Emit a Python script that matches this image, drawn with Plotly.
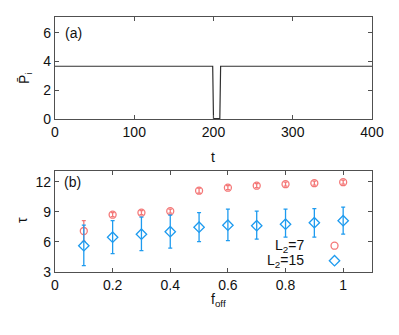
import plotly.graph_objects as go
from plotly.subplots import make_subplots

# panel (a): mean P_i versus t
t_vals = [0, 199, 200, 208, 209, 400]
p_vals = [3.67, 3.67, 0.03, 0.03, 3.67, 3.67]

# panel (b): tau versus f_off
f_off = [0.1, 0.2, 0.3, 0.4, 0.5, 0.6, 0.7, 0.8, 0.9, 1.0]
tau_l7 = [7.07, 8.7, 8.9, 9.05, 11.1, 11.4, 11.6, 11.75, 11.85, 11.95]
err_l7 = [1.03, 0.2, 0.2, 0.2, 0.25, 0.2, 0.2, 0.2, 0.2, 0.2]
tau_l15 = [5.6, 6.45, 6.75, 7.0, 7.45, 7.65, 7.6, 7.75, 7.9, 8.1]
err_up15 = [2.05, 1.65, 1.7, 1.65, 1.45, 1.6, 1.45, 1.5, 1.4, 1.35]
err_dn15 = [2.0, 1.65, 1.65, 1.65, 1.45, 1.55, 1.35, 1.3, 1.45, 1.35]

RED = '#f47878'
BLUE = '#1e9bef'
FRAME = '#505050'
FONT = 'Liberation Sans, Arial, sans-serif'

fig = make_subplots(rows=2, cols=1)

fig.add_trace(go.Scatter(x=t_vals, y=p_vals, mode='lines',
                         line=dict(color='#303030', width=1.2),
                         showlegend=False), row=1, col=1)

fig.add_trace(go.Scatter(x=f_off, y=tau_l7, mode='markers',
                         marker=dict(symbol='circle-open', size=7, color=RED,
                                     line=dict(width=1.3)),
                         error_y=dict(type='data', array=err_l7, color=RED,
                                      thickness=1.3, width=2),
                         showlegend=False), row=2, col=1)
fig.add_trace(go.Scatter(x=f_off, y=tau_l15, mode='markers',
                         marker=dict(symbol='diamond-open', size=8, color=BLUE,
                                     line=dict(width=1.3)),
                         error_y=dict(type='data', symmetric=False,
                                      array=err_up15, arrayminus=err_dn15,
                                      color=BLUE, thickness=1.3, width=2),
                         showlegend=False), row=2, col=1)

# key markers (gnuplot style: text, then symbol)
key_x = 0.97
key_y = [5.6, 4.1]
fig.add_trace(go.Scatter(x=[key_x], y=[key_y[0]], mode='markers',
                         marker=dict(symbol='circle-open', size=7, color=RED,
                                     line=dict(width=1.3)),
                         showlegend=False), row=2, col=1)
fig.add_trace(go.Scatter(x=[key_x], y=[key_y[1]], mode='markers',
                         marker=dict(symbol='diamond-open', size=8, color=BLUE,
                                     line=dict(width=1.3)),
                         showlegend=False), row=2, col=1)

axis_style = dict(showline=True, linecolor=FRAME, linewidth=1.2, mirror='ticks',
                  ticks='inside', ticklen=4, tickcolor=FRAME, showgrid=False,
                  zeroline=False, automargin=False, tickfont=dict(size=14, color='#111'))

fig.update_xaxes(axis_style)
fig.update_yaxes(axis_style)

fig.update_layout(
    width=399, height=335,
    margin=dict(l=0, r=0, t=0, b=0),
    plot_bgcolor='white', paper_bgcolor='white',
    font=dict(family=FONT, size=14, color='#111'),
    xaxis=dict(domain=[0.1378, 0.9323], range=[0, 400],
               tickvals=[0, 100, 200, 300, 400]),
    yaxis=dict(domain=[0.6448, 0.9493], range=[0, 7.1], tickvals=[0, 2, 4, 6]),
    xaxis2=dict(domain=[0.1378, 0.9323], range=[0, 1.1],
                tickvals=[0, 0.2, 0.4, 0.6, 0.8, 1], ticktext=['0', '0.2', '0.4', '0.6', '0.8', '1']),
    yaxis2=dict(domain=[0.189, 0.4904], range=[3, 13.1], tickvals=[3, 6, 9, 12]),
)

ann = [
    dict(text='(a)', x=10, y=6.0, xref='x', yref='y', xanchor='left', showarrow=False,
         font=dict(size=14)),
    dict(text='(b)', x=0.025, y=12.0, xref='x2', yref='y2', xanchor='left', showarrow=False,
         font=dict(size=14)),
    dict(text='t', x=213 / 399, y=1 - 157 / 335, xref='paper', yref='paper', showarrow=False,
         font=dict(size=14)),
    dict(text='f<sub>off</sub>', x=218 / 399, y=1 - 311 / 335, xref='paper', yref='paper',
         showarrow=False, font=dict(size=14)),
    dict(text='P\u0304<sub>i</sub>', x=14 / 399, y=1 - 70 / 335, xref='paper', yref='paper',
         textangle=-90, showarrow=False, font=dict(size=14)),
    dict(text='\u03c4', x=12 / 399, y=1 - 220 / 335, xref='paper', yref='paper',
         textangle=-90, showarrow=False, font=dict(size=14)),
    dict(text='L<sub>2</sub>=7', x=0.87, y=key_y[0], xref='x2', yref='y2', xanchor='right',
         showarrow=False, font=dict(size=14)),
    dict(text='L<sub>2</sub>=15', x=0.87, y=key_y[1], xref='x2', yref='y2', xanchor='right',
         showarrow=False, font=dict(size=14)),
]
fig.update_layout(annotations=ann)

fig.write_html('out.html', config={'displayModeBar': False},
               post_script="document.body.style.margin='0';")
